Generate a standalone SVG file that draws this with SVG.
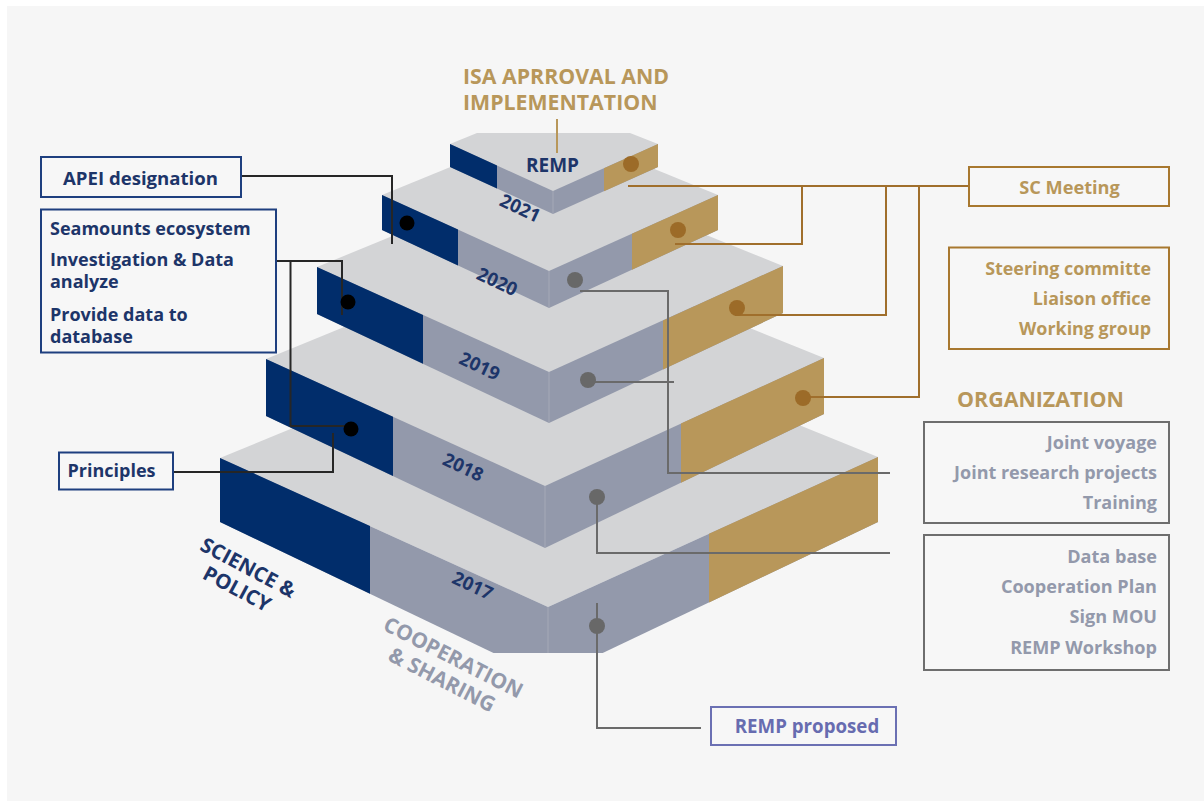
<svg xmlns="http://www.w3.org/2000/svg" width="1204" height="801" viewBox="0 0 1204 801">
<style>
.top{fill:#d3d4d6}
.gb{fill:#9399ab}
.nv{fill:#012d6b}
.tn{fill:#b8975a}
.edge{stroke:#a9adbb;stroke-width:0.8;fill:none}
.t{font-family:"Open Sans","Lato",sans-serif;font-weight:700}
.navyT{fill:#1d3569}
.goldT{fill:#b8975a}
.grayT{fill:#9399ab}
.purT{fill:#676cb0}
.bxN{fill:#f7f7f7;stroke:#1e3f7f;stroke-width:2}
.bxG{fill:#f7f7f7;stroke:#a8782f;stroke-width:2}
.bxK{fill:#f7f7f7;stroke:#6e6e6e;stroke-width:2}
.bxP{fill:#f7f7f7;stroke:#6b70b3;stroke-width:2}
.lk{stroke:#262626;stroke-width:2;fill:none}
.lg{stroke:#a06f2c;stroke-width:2;fill:none}
.lr{stroke:#6a6a6a;stroke-width:2;fill:none}
.dk{fill:#000}
.dg{fill:#9c6b28}
.dr{fill:#686868}
</style>
<rect x="0" y="0" width="1204" height="801" fill="#ffffff"/>
<rect x="7" y="6" width="1197" height="795" fill="#f6f6f6"/>

<!-- Slab 5 (bottom) -->
<g id="slab-2017">
<polygon class="top" points="220,458 361,400 737,400 878,457 548,607"/>
<polygon class="gb" points="220,458 548,607 548,653 493.5,653 220,522"/>
<polygon class="nv" points="220,458 370,526.1 370,593.8 220,522"/>
<polygon class="gb" points="548,607 878,457 878,522 602.7,653 548,653"/>
<polygon class="tn" points="709,533.8 878,457 878,522 709,602.4"/>
<line class="edge" x1="548" y1="607" x2="548" y2="653"/>
</g>
<!-- Slab 4 -->
<g id="slab-2018">
<polygon class="top" points="266,359 410,300 680,300 824,358 545,486"/>
<polygon class="gb" points="266,359 545,486 545,548 266,416"/>
<polygon class="nv" points="266,359 393,416.8 393,476.1 266,416"/>
<polygon class="gb" points="545,486 824,358 824,414 545,548"/>
<polygon class="tn" points="681,423.6 824,358 824,414 681,482.7"/>
<line class="edge" x1="545" y1="486" x2="545" y2="548"/>
</g>
<!-- Slab 3 -->
<g id="slab-2019">
<polygon class="top" points="317,267 468,205 632,205 783,266 549,372"/>
<polygon class="gb" points="317,267 549,372 549,423 317,314"/>
<polygon class="nv" points="317,267 423,315 423,363.8 317,314"/>
<polygon class="gb" points="549,372 783,266 783,313 549,423"/>
<polygon class="tn" points="663,320.4 783,266 783,313 663,369.4"/>
<line class="edge" x1="549" y1="372" x2="549" y2="423"/>
</g>
<!-- Slab 2 -->
<g id="slab-2020">
<polygon class="top" points="382,195 492,150 608,150 718,195 549,271"/>
<polygon class="gb" points="382,195 549,271 549,308 382,230"/>
<polygon class="nv" points="382,195 458,229.6 458,265.5 382,230"/>
<polygon class="gb" points="549,271 718,195 718,230 549,308"/>
<polygon class="tn" points="632,233.7 718,195 718,230 632,269.7"/>
<line class="edge" x1="549" y1="271" x2="549" y2="308"/>
</g>
<!-- Slab 1 (top) -->
<g id="slab-2021">
<polygon class="top" points="450,144 477,133 630,133 658,144 553,191"/>
<polygon class="gb" points="450,144 553,191 553,214 450,167"/>
<polygon class="nv" points="450,144 497,165.4 497,188.4 450,167"/>
<polygon class="gb" points="553,191 658,144 658,167 553,214"/>
<polygon class="tn" points="604,168.2 658,144 658,167 604,191.2"/>
<line class="edge" x1="553" y1="191" x2="553" y2="214"/>
<text class="t navyT" x="552.5" y="172" font-size="19" text-anchor="middle">REMP</text>
</g>

<!-- year & axis labels -->
<g id="labels" class="t">
<text class="navyT" font-size="18.5" text-anchor="middle" transform="translate(517.5,214) rotate(25)">2021</text>
<text class="navyT" font-size="18.5" text-anchor="middle" transform="translate(494.5,287.5) rotate(25)">2020</text>
<text class="navyT" font-size="18.5" text-anchor="middle" transform="translate(477,372) rotate(25)">2019</text>
<text class="navyT" font-size="18.5" text-anchor="middle" transform="translate(460.5,473) rotate(25)">2018</text>
<text class="navyT" font-size="18.5" text-anchor="middle" transform="translate(470,591.5) rotate(25)">2017</text>
<g transform="translate(245,574) rotate(28)">
<text class="navyT" font-size="20.5" text-anchor="middle" x="0" y="0">SCIENCE &amp;</text>
<text class="navyT" font-size="20.5" text-anchor="middle" x="0" y="24">POLICY</text>
</g>
<g transform="translate(450,664) rotate(27)">
<text class="grayT" font-size="21" text-anchor="middle" x="0" y="0">COOPERATION</text>
<text class="grayT" font-size="21" text-anchor="middle" x="0" y="25">&amp; SHARING</text>
</g>
<text class="goldT" font-size="21.3" x="463" y="84">ISA APRROVAL AND</text>
<text class="goldT" font-size="21.3" x="463" y="110">IMPLEMENTATION</text>
<text class="goldT" font-size="21.4" x="957" y="407">ORGANIZATION</text>
</g>

<!-- connectors -->
<g id="connectors">
<line x1="557" y1="119" x2="557" y2="153" stroke="#b8975a" stroke-width="2"/>
<polyline class="lk" points="241,176 392,176 392,244"/>
<polyline class="lk" points="276,261 342,261 342,315"/>
<polyline class="lk" points="290.5,261 290.5,426 347,426"/>
<polyline class="lk" points="173,472 333,472 333,433"/>
<polyline class="lg" points="969,186 628,186"/>
<polyline class="lg" points="802,186 802,244 675,244"/>
<polyline class="lg" points="886,186 886,315 735,315"/>
<polyline class="lg" points="919,186 919,397 803,397"/>
<polyline class="lr" points="580,291 668,291 668,473 890,473"/>
<polyline class="lr" points="593,382 674,382"/>
<polyline class="lr" points="597,497 597,553 890,553"/>
<polyline class="lr" points="597,603 597,728 701,728"/>
<circle class="dk" cx="407" cy="223" r="7.5"/>
<circle class="dk" cx="348" cy="302" r="7.5"/>
<circle class="dk" cx="351" cy="429" r="7.5"/>
<circle class="dg" cx="631" cy="164" r="8"/>
<circle class="dg" cx="678" cy="230" r="8"/>
<circle class="dg" cx="737" cy="308" r="8"/>
<circle class="dg" cx="803" cy="398" r="8"/>
<circle class="dr" cx="575" cy="280" r="8"/>
<circle class="dr" cx="588" cy="380" r="8"/>
<circle class="dr" cx="597" cy="497" r="8"/>
<circle class="dr" cx="597" cy="626" r="8"/>
</g>

<!-- left boxes -->
<g id="apei">
<rect class="bxN" x="41" y="157" width="200" height="40"/>
<text class="t navyT" font-size="18.6" x="140.5" y="185" text-anchor="middle">APEI designation</text>
</g>
<g id="science">
<rect class="bxN" x="41" y="209.5" width="235" height="143"/>
<text class="t navyT" font-size="18" x="50" y="235">Seamounts ecosystem</text>
<text class="t navyT" font-size="18" x="50" y="266">Investigation &amp; Data</text>
<text class="t navyT" font-size="18" x="50" y="288">analyze</text>
<text class="t navyT" font-size="18" x="50" y="321">Provide data to</text>
<text class="t navyT" font-size="18" x="50" y="343">database</text>
</g>
<g id="principles">
<rect class="bxN" x="59" y="452.5" width="114" height="37"/>
<text class="t navyT" font-size="18" x="111.5" y="477" text-anchor="middle">Principles</text>
</g>

<!-- right boxes -->
<g id="sc-meeting">
<rect class="bxG" x="969" y="167" width="200" height="39"/>
<text class="t goldT" font-size="18.2" x="1069.5" y="194" text-anchor="middle">SC Meeting</text>
</g>
<g id="organization-items">
<rect class="bxG" x="949" y="247.5" width="220" height="101.5"/>
<text class="t goldT" font-size="17.9" x="1151" y="275" text-anchor="end">Steering committe</text>
<text class="t goldT" font-size="17.9" x="1151" y="305" text-anchor="end">Liaison office</text>
<text class="t goldT" font-size="17.9" x="1151" y="335" text-anchor="end">Working group</text>
</g>
<g id="joint">
<rect class="bxK" x="924" y="422" width="245" height="101"/>
<text class="t grayT" font-size="18" x="1157" y="449" text-anchor="end">Joint voyage</text>
<text class="t grayT" font-size="18" x="1157" y="479" text-anchor="end">Joint research projects</text>
<text class="t grayT" font-size="18" x="1157" y="509" text-anchor="end">Training</text>
</g>
<g id="database">
<rect class="bxK" x="924" y="535" width="245" height="135"/>
<text class="t grayT" font-size="18.1" x="1157" y="563" text-anchor="end">Data base</text>
<text class="t grayT" font-size="18.1" x="1157" y="593" text-anchor="end">Cooperation Plan</text>
<text class="t grayT" font-size="18.1" x="1157" y="623" text-anchor="end">Sign MOU</text>
<text class="t grayT" font-size="18.1" x="1157" y="654" text-anchor="end">REMP Workshop</text>
</g>
<g id="remp-proposed">
<rect class="bxP" x="711" y="707" width="185" height="38"/>
<text class="t purT" font-size="18.7" x="807" y="733" text-anchor="middle">REMP proposed</text>
</g>
</svg>
